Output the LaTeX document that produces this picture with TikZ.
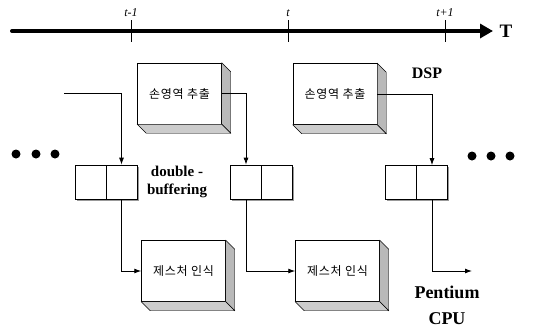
\documentclass[tikz,border=0pt]{standalone}
\usepackage{fontspec}
\setmainfont{Liberation Serif}
\newfontfamily\kor[LetterSpace=6]{Noto Sans CJK KR}
\usetikzlibrary{arrows.meta, shadows}

\tikzset{
  task/.style={draw, fill=white, line width=.5pt, inner sep=0pt,
    minimum width=84pt, minimum height=61pt,
    font=\kor\fontsize{12}{14}\selectfont},
  cell/.style={draw, fill=white, line width=.6pt, inner sep=0pt,
    minimum width=31pt, minimum height=34pt,
    drop shadow={shadow xshift=1.6pt, shadow yshift=-1.6pt, fill=gray!80, opacity=1}},
  side/.style={draw, line width=.4pt, fill=gray!55},
  flow/.style={line width=.9pt, -{Latex[length=7pt, width=5pt]}},
  dot/.style={circle, fill, inner sep=0pt, minimum size=9pt},
  lbl/.style={font=\bfseries\fontsize{16}{18}\selectfont, align=center}
}

\begin{document}
\begin{tikzpicture}[x=1pt, y=-1pt]
    \useasboundingbox (0, 0) rectangle (550, 330);

    % time axis
    \coordinate (t0) at (12, 31);
    \coordinate (t1) at (493, 31);
    \draw [line width=4pt, line cap=round, -{Triangle[length=13pt, width=14pt]}] (t0) -- (t1);
    \node [lbl, font=\bfseries\fontsize{19}{20}\selectfont] (T) at (506, 31) {T};
    \foreach \x/\t in {131/t-1, 288/t, 445/t+1} {
      \draw [line width=.7pt] (\x, 20) -- (\x, 42);
      \node [font=\itshape\fontsize{12}{13}\selectfont] (lab\x) at (\x, 13) {\t};
    }

    % DSP and CPU jobs
    \node [task] (ext1) at (179.5, 93.5) {손영역 추출};
    \node [task] (ext2) at (335, 94) {손영역 추출};
    \node [task] (ges1) at (183.5, 271) {제스처 인식};
    \node [task] (ges2) at (337.5, 271) {제스처 인식};
    \foreach \b in {ext1, ext2, ges1, ges2} {
      \filldraw [side] (\b.north east) -- ++(9, 9) -- ([shift={(9, 9)}]\b.south east) -- (\b.south east) -- cycle;
      \filldraw [side, fill=gray!40] (\b.south west) -- (\b.south east) -- ([shift={(9, 9)}]\b.south east) -- ([shift={(9, 9)}]\b.south west) -- cycle;
    }

    % double buffers
    \node [cell] (buf1l) at (90.5, 182) {};
    \node [cell] (buf1r) at (121.5, 182) {};
    \node [cell] (buf2l) at (246, 182) {};
    \node [cell] (buf2r) at (277, 182) {};
    \node [cell] (buf3l) at (401, 182.5) {};
    \node [cell] (buf3r) at (432, 182.5) {};

    \node [lbl, font=\bfseries\fontsize{15}{18}\selectfont] (dbuf) at (177, 182) {double -\\buffering};
    \node [lbl, font=\bfseries\fontsize{16}{18}\selectfont] (dsp) at (427, 73) {DSP};
    \node [lbl, font=\bfseries\fontsize{18}{26}\selectfont] (cpu) at (447, 305) {Pentium\\CPU};

    \foreach \x in {16, 36, 55} \node [dot] (ld\x) at (\x, 154) {};
    \foreach \x in {472, 491, 510} \node [dot] (rd\x) at (\x, 156) {};

    % data flow
    \coordinate (in1) at (64, 93);
    \coordinate (out1) at (472, 271);
    \draw [flow] (in1) -| (buf1r.north);
    \draw [flow] (ext1.east) -| (buf2l.north);
    \draw [flow] (ext2.east) -| (buf3r.north);
    \draw [flow] (buf1r.south) |- (ges1.west);
    \draw [flow] (buf2l.south) |- (ges2.west);
    \draw [flow] (buf3r.south) |- (out1);
  \end{tikzpicture}
\end{document}
